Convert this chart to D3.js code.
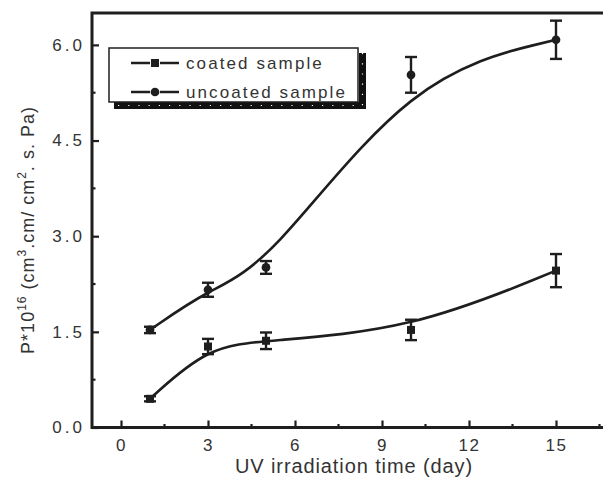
<!DOCTYPE html>
<html><head><meta charset="utf-8">
<script src="https://cdn.jsdelivr.net/npm/d3@7"></script>
<style>
html,body{margin:0;padding:0;background:#fff;}
svg{display:block;font-family:"Liberation Sans",Arial,sans-serif;}
</style></head>
<body>
<svg id="chart" width="603" height="481"></svg>
<script>
// ---- data ----
const days = [1, 3, 5, 10, 15];
const coated = [0.45, 1.27, 1.36, 1.53, 2.46];
const coatedErr = [0.04, 0.12, 0.13, 0.16, 0.26];
const uncoated = [1.53, 2.16, 2.51, 5.53, 6.08];
const uncoatedErr = [0.05, 0.11, 0.10, 0.28, 0.30];
const xTicks = [0, 3, 6, 9, 12, 15];
const xMinor = [1.5, 4.5, 7.5, 10.5, 13.5, 16.5];
const yTicks = [0, 1.5, 3.0, 4.5, 6.0];
const yMinor = [0.75, 2.25, 3.75, 5.25];
const legendLabels = ["coated sample", "uncoated sample"];

const ink = "#1e1e1e";
const svg = d3.select("#chart");
const x = d3.scaleLinear().domain([-1, 17]).range([92, 614]);
const y = d3.scaleLinear().domain([0, 6.5]).range([427.5, 13]);

// frame
svg.append("rect").attr("x", 92).attr("y", 13).attr("width", 522).attr("height", 414.5)
  .attr("fill", "none").attr("stroke", ink).attr("stroke-width", 3);

// axes ticks (inward)
const gx = svg.append("g").attr("transform", "translate(0,427.5)");
gx.call(d3.axisBottom(x).tickValues(xTicks).tickSizeInner(-7).tickSizeOuter(0).tickFormat(d3.format("d")));
gx.select(".domain").remove();
gx.selectAll(".tick line").attr("stroke", ink).attr("stroke-width", 2.2);
gx.selectAll(".tick text").attr("font-size", 17).attr("fill", "#333").attr("y", 11).attr("dy", "0.71em").attr("letter-spacing", 1.5);
gx.selectAll(".xm").data(xMinor).enter().append("line")
  .attr("x1", d => x(d)).attr("x2", d => x(d)).attr("y1", 0).attr("y2", -3.5)
  .attr("stroke", ink).attr("stroke-width", 2.2);

const gy = svg.append("g").attr("transform", "translate(92,0)");
gy.call(d3.axisLeft(y).tickValues(yTicks).tickSizeInner(-7).tickSizeOuter(0).tickFormat(d3.format(".1f")));
gy.select(".domain").remove();
gy.selectAll(".tick line").attr("stroke", ink).attr("stroke-width", 2.2);
gy.selectAll(".tick text").attr("font-size", 17).attr("fill", "#333").attr("x", -7).attr("letter-spacing", 3);
gy.selectAll(".ym").data(yMinor).enter().append("line")
  .attr("y1", d => y(d)).attr("y2", d => y(d)).attr("x1", 0).attr("x2", 3.5)
  .attr("stroke", ink).attr("stroke-width", 2.2);

// axis titles
svg.append("text").attr("x", 354).attr("y", 473).attr("text-anchor", "middle")
  .attr("font-size", 20).attr("fill", "#333").attr("letter-spacing", 0.9)
  .text("UV irradiation time (day)");

const yl = svg.append("text").attr("transform", "translate(34,230) rotate(-90)")
  .attr("text-anchor", "middle").attr("font-size", 18).attr("fill", "#333").attr("letter-spacing", 1);
yl.append("tspan").text("P*10");
yl.append("tspan").attr("font-size", 12).attr("dy", -8).text("16");
yl.append("tspan").attr("dy", 8).text(" (cm");
yl.append("tspan").attr("font-size", 12).attr("dy", -8).text("3");
yl.append("tspan").attr("dy", 8).text(".cm/ cm");
yl.append("tspan").attr("font-size", 12).attr("dy", -8).text("2");
yl.append("tspan").attr("dy", 8).text(". s. Pa)");

// series
const series = [
  {vals: coated, err: coatedErr, shape: "square"},
  {vals: uncoated, err: uncoatedErr, shape: "circle"}
];
const line = d3.line().x(d => x(d[0])).y(d => y(d[1])).curve(d3.curveBasis);
const sym = {square: d3.symbol().type(d3.symbolSquare).size(64), circle: d3.symbol().type(d3.symbolCircle).size(60)};

series.forEach(s => {
  const pts = days.map((d, i) => [d, s.vals[i], s.err[i]]);
  svg.append("path").datum(pts).attr("d", line).attr("fill", "none")
    .attr("stroke", ink).attr("stroke-width", 2.6);
  const g = svg.append("g");
  const eb = g.selectAll(".eb").data(pts).enter().append("g");
  eb.append("line").attr("x1", d => x(d[0])).attr("x2", d => x(d[0]))
    .attr("y1", d => y(d[1] + d[2])).attr("y2", d => y(d[1] - d[2]))
    .attr("stroke", ink).attr("stroke-width", 2.4);
  [1, -1].forEach(sg => {
    eb.append("line").attr("x1", d => x(d[0]) - 6).attr("x2", d => x(d[0]) + 6)
      .attr("y1", d => y(d[1] + sg * d[2])).attr("y2", d => y(d[1] + sg * d[2]))
      .attr("stroke", ink).attr("stroke-width", 2.4);
  });
  g.selectAll(".m").data(pts).enter().append("path")
    .attr("d", sym[s.shape]).attr("transform", d => `translate(${x(d[0])},${y(d[1])})`)
    .attr("fill", ink);
});

// legend with offset shadow drawn as a thick stroke
const lg = svg.append("g");
lg.append("path").attr("d", "M362.5,53 V105.5 H114")
  .attr("fill", "none").attr("stroke", "#111").attr("stroke-width", 7);
lg.append("path").attr("d", "M362.5,53 V105.5 H114")
  .attr("fill", "none").attr("stroke", "#fff").attr("stroke-width", 1.2).attr("stroke-dasharray", "1.2 9");
lg.append("rect").attr("x", 109).attr("y", 48).attr("width", 249).attr("height", 54)
  .attr("fill", "#fff").attr("stroke", ink).attr("stroke-width", 1.5);
legendLabels.forEach((lab, i) => {
  const cy = 63 + i * 29;
  lg.append("line").attr("x1", 131).attr("x2", 179).attr("y1", cy).attr("y2", cy)
    .attr("stroke", ink).attr("stroke-width", 2.4);
  lg.append("rect").attr("x", 150).attr("y", cy - 2).attr("width", 10).attr("height", 4).attr("fill", "#fff");
  lg.append("path").attr("d", sym[series[i].shape]).attr("transform", `translate(155,${cy})`).attr("fill", ink);
  lg.append("text").attr("x", 186).attr("y", cy).attr("dy", "0.35em").attr("font-size", 17)
    .attr("fill", "#333").attr("letter-spacing", 2.1).text(lab);
});
</script>
</body></html>
